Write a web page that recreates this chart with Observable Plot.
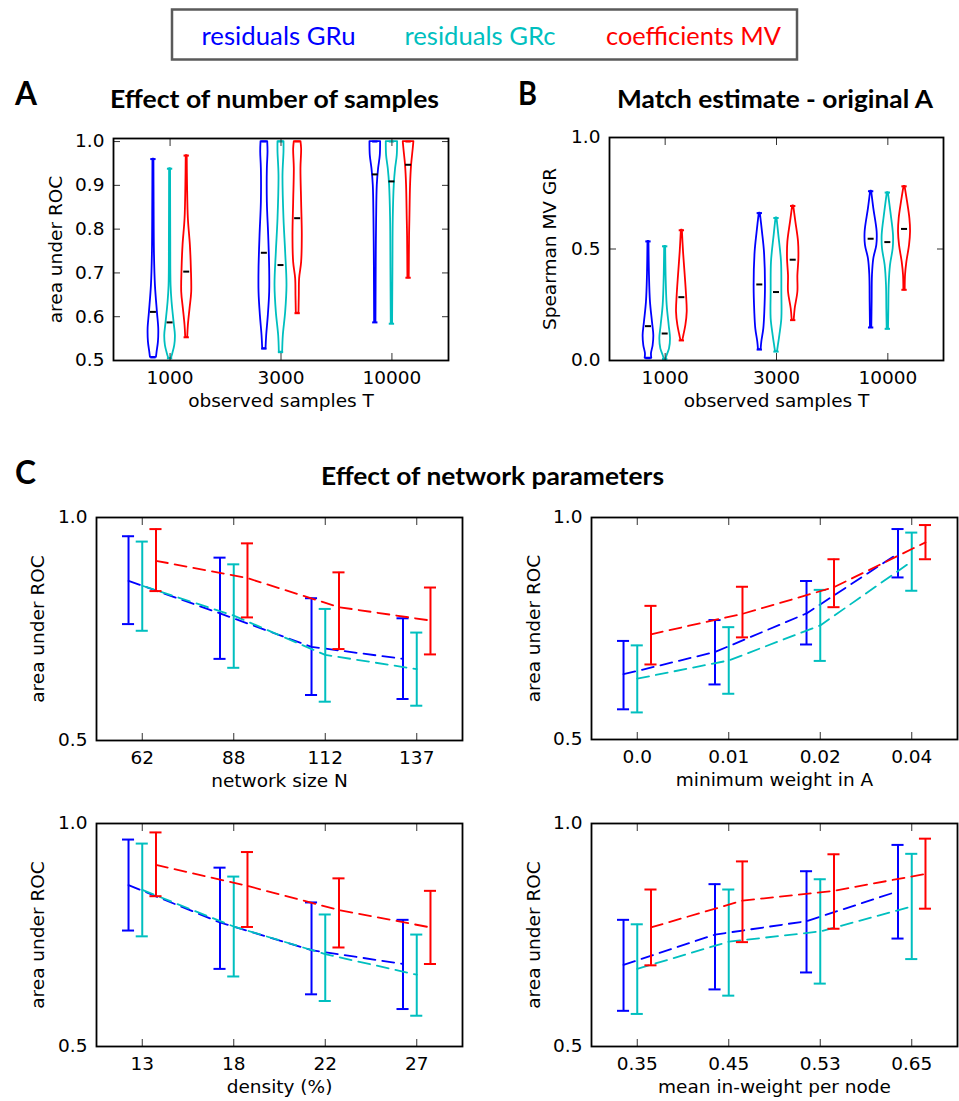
<!DOCTYPE html>
<html><head><meta charset="utf-8">
<script src="https://cdn.jsdelivr.net/npm/d3@7"></script>
<script src="https://cdn.jsdelivr.net/npm/@observablehq/plot@0.6"></script>
<style>
body{margin:0;background:#fff;}
#root{position:relative;width:959px;height:1101px;overflow:hidden;background:#fff;}
#root > svg{position:absolute;}
</style></head><body><div id="root"></div>
<script>
// ---------- data ----------
const seriesNames = ["residuals GRu", "residuals GRc", "coefficients MV"];
const seriesColors = ["#0000ff", "#00bfbf", "#ff0000"];
const sampleLabels = ["1000", "3000", "10000"];

// Panel A: area under ROC, violin profiles [value, relative density] per T
const aucProfileGRu = [
  [[0.507,9],[0.519,11],[0.542,15],[0.572,16],[0.610,12],[0.671,6],[0.747,3],[0.861,2],[0.960,1.5]],
  [[0.527,5],[0.557,7],[0.603,12],[0.656,16],[0.709,16],[0.785,13],[0.861,9],[0.938,9],[0.976,11],[1.0,10]],
  [[0.587,2],[0.671,2.5],[0.747,3],[0.823,4],[0.900,6],[0.938,10],[0.968,15],[1.0,16]]
];
const aucProfileGRc = [
  [[0.505,4],[0.515,8],[0.534,14],[0.557,16],[0.587,12],[0.633,6],[0.671,3],[0.785,2],[0.938,1.5]],
  [[0.519,5],[0.557,7],[0.610,14],[0.671,18],[0.747,14],[0.823,9],[0.922,6],[0.976,9],[1.0,9]],
  [[0.584,2],[0.709,3],[0.823,4],[0.900,7],[0.938,11],[0.968,16],[1.0,17]]
];
const aucProfileMV = [
  [[0.553,3],[0.580,5],[0.618,10],[0.656,15],[0.709,14],[0.763,11],[0.823,5],[0.900,2.5],[0.968,1.5]],
  [[0.608,4],[0.648,5],[0.687,6],[0.724,12],[0.785,14],[0.861,12],[0.938,10],[0.983,12],[1.0,10]],
  [[0.689,2],[0.785,3],[0.823,4],[0.900,6],[0.945,9],[0.983,14],[1.0,16]]
];
const aucMedianGRu = [0.611, 0.746, 0.925];
const aucMedianGRc = [0.587, 0.718, 0.909];
const aucMedianMV = [0.703, 0.825, 0.947];

// Panel B: Spearman MV GR
const rhoProfileGRu = [
  [[0.010,10],[0.030,9],[0.067,14],[0.112,16],[0.172,12],[0.262,6],[0.382,3],[0.534,1.5]],
  [[0.049,4],[0.082,6],[0.142,12],[0.217,15],[0.337,17],[0.486,14],[0.576,8],[0.661,1.5]],
  [[0.148,2],[0.262,3],[0.382,4],[0.456,8],[0.516,17],[0.576,18],[0.681,8],[0.759,1.5]]
];
const rhoProfileGRc = [
  [[0.007,3],[0.022,6],[0.052,13],[0.097,16],[0.157,12],[0.247,6],[0.367,3],[0.512,1.5]],
  [[0.040,3],[0.060,5],[0.112,10],[0.187,16],[0.307,16],[0.441,15],[0.561,7],[0.639,1.5]],
  [[0.142,2],[0.232,3],[0.337,4],[0.427,8],[0.501,16],[0.561,17],[0.666,9],[0.753,1.5]]
];
const rhoProfileMV = [
  [[0.090,3],[0.112,6],[0.157,12],[0.217,16],[0.292,14],[0.382,10],[0.486,5],[0.584,1.5]],
  [[0.181,3],[0.232,6],[0.307,14],[0.380,14],[0.455,17],[0.531,16],[0.621,8],[0.693,1.5]],
  [[0.317,2],[0.382,3],[0.441,7],[0.516,15],[0.576,18],[0.636,16],[0.711,9],[0.781,1.5]]
];
const rhoMedianGRu = [0.154, 0.341, 0.546];
const rhoMedianGRc = [0.121, 0.307, 0.531];
const rhoMedianMV = [0.284, 0.452, 0.590];

// Panel C1: network size N
const sizeLabels = ["62", "88", "112", "137"];
const sizeMean = [[0.858,0.785,0.710,0.683],[0.847,0.780,0.692,0.660],[0.903,0.864,0.799,0.769]];
const sizeLow  = [[0.761,0.683,0.602,0.593],[0.746,0.663,0.587,0.578],[0.835,0.776,0.705,0.693]];
const sizeHigh = [[0.958,0.910,0.819,0.774],[0.946,0.895,0.795,0.742],[0.974,0.942,0.877,0.843]];

// Panel C2: minimum weight in A
const minWLabels = ["0.0", "0.01", "0.02", "0.04"];
const minWMean = [[0.647,0.697,0.784,0.919],[0.637,0.678,0.757,0.901],[0.737,0.783,0.843,0.944]];
const minWLow  = [[0.568,0.624,0.714,0.865],[0.561,0.603,0.677,0.835],[0.669,0.730,0.798,0.906]];
const minWHigh = [[0.722,0.769,0.857,0.974],[0.712,0.753,0.837,0.966],[0.801,0.844,0.906,0.983]];

// Panel C3: density (%)
const densLabels = ["13", "18", "22", "27"];
const densMean = [[0.862,0.778,0.716,0.685],[0.851,0.769,0.707,0.661],[0.907,0.860,0.806,0.767]];
const densLow  = [[0.760,0.674,0.617,0.584],[0.747,0.657,0.602,0.569],[0.837,0.768,0.722,0.685]];
const densHigh = [[0.964,0.901,0.823,0.784],[0.955,0.881,0.796,0.751],[0.980,0.936,0.877,0.849]];

// Panel C4: mean in-weight per node
const inWLabels = ["0.35", "0.45", "0.53", "0.65"];
const inWMean = [[0.683,0.751,0.781,0.848],[0.674,0.735,0.758,0.814],[0.767,0.827,0.849,0.887]];
const inWLow  = [[0.580,0.628,0.666,0.742],[0.573,0.614,0.641,0.696],[0.682,0.734,0.764,0.809]];
const inWHigh = [[0.784,0.864,0.893,0.952],[0.774,0.852,0.875,0.932],[0.852,0.915,0.931,0.966]];

// ---------- styling ----------
const offsets = [-0.15, 0, 0.15];
const violinScale = 0.003, capHalf = 0.024, medianHalf = 0.027, errCapHalf = 0.066;
const FONT = "DejaVu Sans";
const FS = 18.5;
const root = document.getElementById("root");

function place(el, left, top) {
  el.style.left = left + "px"; el.style.top = top + "px";
  root.appendChild(el);
}

function frameAxes(xTicks, xLabels, yTicks, xLabel, yLabel, yLabelDx) {
  const fmt = d3.format(".1f");
  const txt = {fontFamily: FONT, fontSize: FS, fill: "black"};
  const tk = {stroke: "#333", strokeWidth: 1, label: null, tickFormat: () => ""};
  return [
    Plot.axisX({anchor: "bottom", ticks: xTicks, tickSize: 0, tickPadding: 10, tickFormat: i => xLabels[i], label: null, ...txt}),
    Plot.axisY({anchor: "left", ticks: yTicks, tickSize: 0, tickPadding: 9, tickFormat: fmt, label: null, ...txt}),
    Plot.axisX({anchor: "bottom", ticks: xTicks, tickSize: -7, ...tk}),
    Plot.axisX({anchor: "top", ticks: xTicks, tickSize: -7, ...tk}),
    Plot.axisY({anchor: "left", ticks: yTicks, tickSize: -7, ...tk}),
    Plot.axisY({anchor: "right", ticks: yTicks, tickSize: -7, ...tk}),
    Plot.text([xLabel], {frameAnchor: "bottom", dy: 46, text: d => d, textAnchor: "middle", ...txt}),
    Plot.text([yLabel], {frameAnchor: "left", dx: yLabelDx, rotate: -90, text: d => d, textAnchor: "middle", ...txt}),
    Plot.frame({stroke: "black", strokeWidth: 1.8})
  ];
}

const plotStyle = `font-family: 'DejaVu Sans'; font-size: ${FS}px; color: black; background: transparent; overflow: visible;`;

function violinPanel(cfg) {
  const marks = [];
  cfg.profiles.forEach((prof, s) => {
    const rows = [], caps = [], meds = [];
    prof.forEach((pts, c) => {
      pts.forEach(([v, d]) => rows.push({c, v, d, key: c}));
      caps.push({c, v: pts[0][0]}, {c, v: pts[pts.length - 1][0]});
      meds.push({c, v: cfg.medians[s][c]});
    });
    const off = offsets[s];
    marks.push(
      Plot.areaX(rows, {y: "v", x1: r => r.c + off - r.d * violinScale, x2: r => r.c + off + r.d * violinScale,
        z: "key", fill: "none", stroke: seriesColors[s], strokeWidth: 1.8, curve: "catmull-rom"}),
      Plot.ruleY(caps, {y: "v", x1: r => r.c + off - capHalf, x2: r => r.c + off + capHalf, stroke: seriesColors[s], strokeWidth: 2}),
      Plot.ruleY(meds, {y: "v", x1: r => r.c + off - medianHalf, x2: r => r.c + off + medianHalf, stroke: "black", strokeWidth: 2})
    );
  });
  return Plot.plot({
    width: cfg.width, height: cfg.height, ...cfg.margins,
    style: plotStyle,
    x: {domain: cfg.xDomain, axis: null},
    y: {domain: cfg.yDomain, axis: null},
    marks: [...marks, ...frameAxes([0,1,2], sampleLabels, cfg.yTicks, "observed samples T", cfg.yLabel, cfg.yLabelDx)]
  });
}

function errorPanel(cfg) {
  const marks = [];
  for (let s = 0; s < 3; s++) {
    const off = offsets[s];
    const rows = cfg.labels.map((_, c) => ({c, mean: cfg.mean[s][c], lo: cfg.low[s][c], hi: cfg.high[s][c]}));
    marks.push(
      Plot.line(rows, {x: r => r.c + off, y: "mean", stroke: seriesColors[s], strokeWidth: 1.8, strokeDasharray: "12,7"}),
      Plot.ruleX(rows, {x: r => r.c + off, y1: "lo", y2: "hi", stroke: seriesColors[s], strokeWidth: 2}),
      Plot.ruleY(rows, {y: "hi", x1: r => r.c + off - errCapHalf, x2: r => r.c + off + errCapHalf, stroke: seriesColors[s], strokeWidth: 2}),
      Plot.ruleY(rows, {y: "lo", x1: r => r.c + off - errCapHalf, x2: r => r.c + off + errCapHalf, stroke: seriesColors[s], strokeWidth: 2})
    );
  }
  return Plot.plot({
    width: cfg.width, height: cfg.height, ...cfg.margins,
    style: plotStyle,
    x: {domain: [-0.5, 3.5], axis: null},
    y: {domain: [0.5, 1.0], axis: null},
    marks: [...marks, ...frameAxes([0,1,2,3], cfg.labels, [0.5, 1.0], cfg.xLabel, "area under ROC", cfg.yLabelDx)]
  });
}

// ---------- panels ----------
place(violinPanel({
  profiles: [aucProfileGRu, aucProfileGRc, aucProfileMV],
  medians: [aucMedianGRu, aucMedianGRc, aucMedianMV],
  xDomain: [-0.51, 2.51], yDomain: [0.5, 1.007], yTicks: [0.5, 0.6, 0.7, 0.8, 0.9, 1.0],
  yLabel: "area under ROC", yLabelDx: -57,
  width: 480, height: 300, margins: {marginTop: 13, marginRight: 32, marginBottom: 65, marginLeft: 113}
}), 0, 125);

place(violinPanel({
  profiles: [rhoProfileGRu, rhoProfileGRc, rhoProfileMV],
  medians: [rhoMedianGRu, rhoMedianGRc, rhoMedianMV],
  xDomain: [-0.5, 2.5], yDomain: [0, 1], yTicks: [0, 0.5, 1.0],
  yLabel: "Spearman MV GR", yLabelDx: -59,
  width: 479, height: 300, margins: {marginTop: 12, marginRight: 16, marginBottom: 65, marginLeft: 129}
}), 480, 125);

const leftM = {marginTop: 12, marginRight: 18, marginBottom: 65, marginLeft: 96};
const rightM = {marginTop: 12, marginRight: 2, marginBottom: 66, marginLeft: 111};
place(errorPanel({labels: sizeLabels, mean: sizeMean, low: sizeLow, high: sizeHigh, xLabel: "network size N",
  yLabelDx: -58, width: 480, height: 300, margins: leftM}), 0, 505);
place(errorPanel({labels: minWLabels, mean: minWMean, low: minWLow, high: minWHigh, xLabel: "minimum weight in A",
  yLabelDx: -57, width: 479, height: 300, margins: rightM}), 480, 505);
place(errorPanel({labels: densLabels, mean: densMean, low: densLow, high: densHigh, xLabel: "density (%)",
  yLabelDx: -58, width: 480, height: 290, margins: {...leftM, marginBottom: 55}}), 0, 811);
place(errorPanel({labels: inWLabels, mean: inWMean, low: inWLow, high: inWHigh, xLabel: "mean in-weight per node",
  yLabelDx: -57, width: 479, height: 290, margins: {...rightM, marginBottom: 55}}), 480, 811);

// ---------- legend & titles ----------
function overlay(top, height, build) {
  const svg = d3.create("svg").attr("width", 959).attr("height", height)
    .style("font-family", "Lato, 'Open Sans', sans-serif");
  build(svg);
  place(svg.node(), 0, top);
}
overlay(0, 120, svg => {
  svg.append("rect").attr("x", 172).attr("y", 9.5).attr("width", 625).attr("height", 50)
    .attr("fill", "white").attr("stroke", "#5a5a5a").attr("stroke-width", 2.5);
  const legendX = [201.5, 404.5, 606];
  const legendW = [154, 151, 175];
  seriesNames.forEach((n, i) => {
    svg.append("text").attr("x", legendX[i]).attr("y", 45).attr("font-size", 25)
      .attr("fill", seriesColors[i]).attr("textLength", legendW[i]).attr("lengthAdjust", "spacingAndGlyphs").text(n);
  });
  const bold = (x, y, size, t, len) => {
    const e = svg.append("text").attr("x", x).attr("y", y).attr("font-size", size).attr("font-weight", 700).text(t);
    if (len) e.attr("textLength", len).attr("lengthAdjust", "spacingAndGlyphs");
  };
  bold(15, 104.5, 32, "A", 22);
  bold(110, 107.5, 24, "Effect of number of samples", 329);
  bold(518, 104.5, 32, "B", 19);
  bold(617, 107.5, 24, "Match estimate - original A", 316);
});
overlay(445, 55, svg => {
  svg.append("text").attr("x", 15).attr("y", 483.5 - 445).attr("font-size", 32).attr("font-weight", 700)
    .attr("textLength", 21).attr("lengthAdjust", "spacingAndGlyphs").text("C");
  svg.append("text").attr("x", 321).attr("y", 485 - 445).attr("font-size", 24).attr("font-weight", 700)
    .attr("textLength", 343).attr("lengthAdjust", "spacingAndGlyphs").text("Effect of network parameters");
});
</script></body></html>
